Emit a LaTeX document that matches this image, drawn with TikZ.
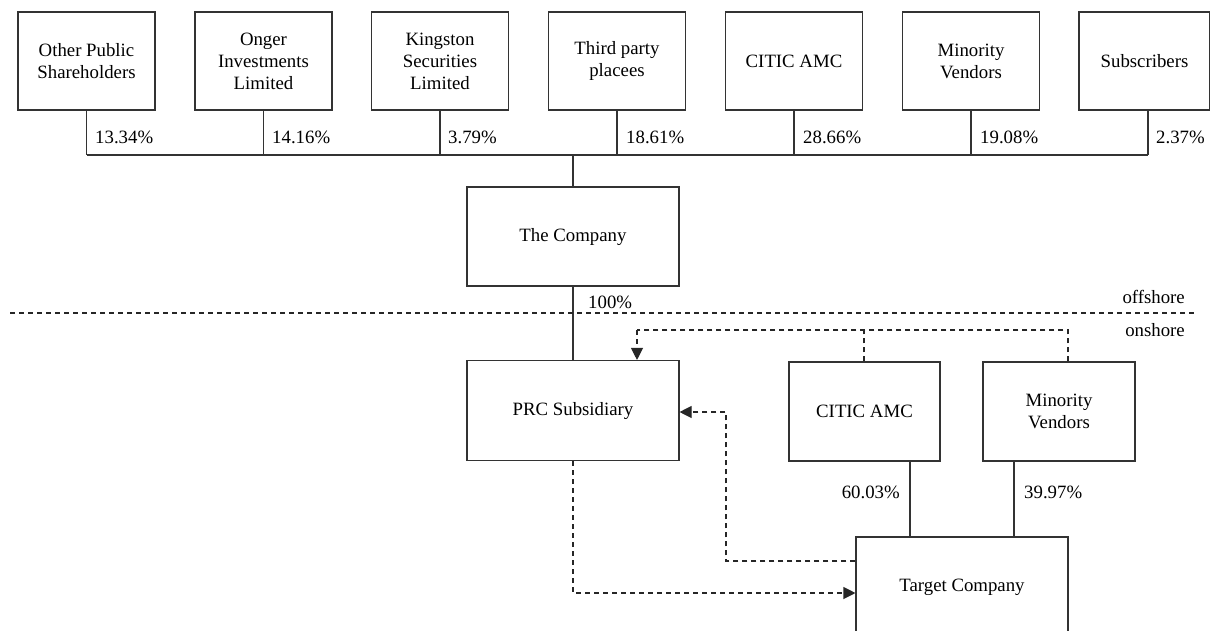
\documentclass[tikz,border=0pt]{standalone}
\usepackage{fontspec}
\setmainfont{Liberation Serif}
\usetikzlibrary{arrows.meta}
\begin{document}
\begin{tikzpicture}[x=1pt,y=-1pt,
  box/.style={draw=black!80,line width=1.1pt,align=center,inner sep=0pt,font=\fontsize{18.8}{22}\selectfont},
  tbox/.style={box,minimum width=137pt,minimum height=98pt},
  wbox/.style={box,minimum width=212pt,minimum height=100pt},
  cbox/.style={box,minimum width=151pt,minimum height=99pt},
  ln/.style={draw=black!80,line width=1.1pt},
  dl/.style={draw=black!85,line width=1.1pt,dash pattern=on 5pt off 4pt},
  arr/.style={-{Triangle[length=12pt,width=12pt]}},
  txt/.style={font=\fontsize{18.8}{22}\selectfont,inner sep=0pt},
  pct/.style={txt,anchor=base west}]
\useasboundingbox (0,0) rectangle (1210,630);
% top row
\node[tbox] (b1) at (86.5,61) {Other Public\\Shareholders};
\node[tbox] (b2) at (263.5,61) {Onger\\Investments\\Limited};
\node[tbox] (b3) at (440,61) {Kingston\\Securities\\Limited};
\node[tbox] (b4) at (617,61) {Third party\\placees};
\node[tbox] (b5) at (794,61) {CITIC AMC};
\node[tbox] (b6) at (971,61) {Minority\\Vendors};
\node[tbox,minimum width=131pt] (b7) at (1144.5,61) {Subscribers};
% bus
\coordinate (busL) at (86.5,155);
\coordinate (busR) at (1148,155);
\draw[ln] (busL) -- (busR);
\foreach \b in {b1,b2,b3,b4,b5,b6} \draw[ln] (\b.south) -- (\b.south |- busL);
\draw[ln] ([xshift=3.5pt]b7.south) -- (busR);
\node[pct] (p1) at (95,143) {13.34\%};
\node[pct] (p2) at (272,143) {14.16\%};
\node[pct] (p3) at (448,143) {3.79\%};
\node[pct] (p4) at (626,143) {18.61\%};
\node[pct] (p5) at (803,143) {28.66\%};
\node[pct] (p6) at (980,143) {19.08\%};
\node[pct] (p7) at (1156,143) {2.37\%};
% company
\node[wbox,minimum height=99pt] (co) at (573,236.5) {The Company};
\draw[ln] (co.north |- busL) -- (co.north);
\node[wbox] (prc) at (573,410.5) {PRC Subsidiary};
\draw[ln] (co.south) -- (prc.north);
\node[pct] (p100) at (588,308) {100\%};
% shore line
\coordinate (sl) at (10,313);
\coordinate (sr) at (1195,313);
\draw[dl] (sl) -- (sr);
\node[txt,anchor=base east] (off) at (1185,303) {offshore};
\node[txt,anchor=base east] (on) at (1185,336) {onshore};
% onshore boxes
\node[cbox] (ca) at (864.5,411.5) {CITIC AMC};
\node[cbox,minimum width=152pt] (mv) at (1059,411.5) {Minority\\Vendors};
\node[wbox] (tc) at (962,587) {Target Company};
\draw[ln] (ca.south -| 910,0) -- (tc.north -| 910,0);
\draw[ln] (mv.south -| 1014,0) -- (tc.north -| 1014,0);
\node[txt,anchor=base east] (p60) at (900,498) {60.03\%};
\node[pct] (p39) at (1024,498) {39.97\%};
% dashed arrows
\coordinate (top) at (637,330);
\draw[dl] (ca.north -| 864,0) -- (864,330);
\draw[dl] (mv.north -| 1068,0) -- (1068,330) -- (top);
\draw[dl,arr] (top) -- (top |- prc.north);
\draw[dl,arr] (tc.west |- 0,561) -- (726,561) -- (726,412) -- (prc.east |- 0,412);
\draw[dl,arr] (prc.south) -- (573,593) -- (tc.west |- 0,593);
\end{tikzpicture}
\end{document}
